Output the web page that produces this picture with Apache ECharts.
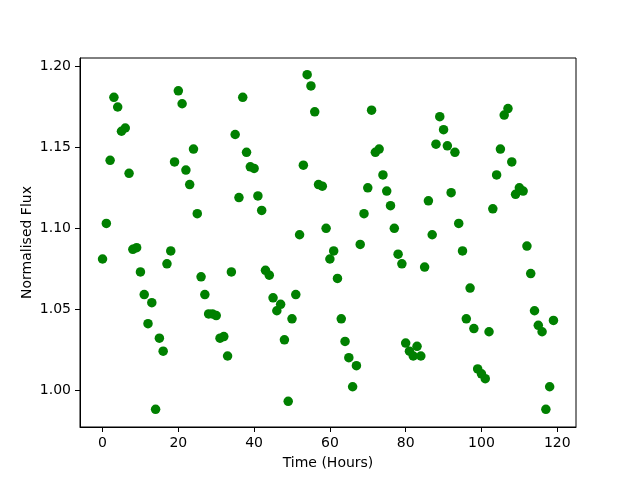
<!DOCTYPE html>
<html>
<head>
<meta charset="utf-8">
<script src="https://cdn.jsdelivr.net/npm/echarts@6/dist/echarts.min.js"></script>
<style>
  html, body { margin: 0; padding: 0; background: #fff; }
  #chart { width: 640px; height: 480px; }
</style>
</head>
<body>
<div id="chart"></div>
<script>
// hours 0..119, one reading per hour
const hours = Array.from({ length: 120 }, (_, i) => i)
const flux = [
  1.081, 1.103, 1.142, 1.181, 1.175, 1.160, 1.162, 1.134, 1.087, 1.088,
  1.073, 1.059, 1.041, 1.054, 0.988, 1.032, 1.024, 1.078, 1.086, 1.141,
  1.185, 1.177, 1.136, 1.127, 1.149, 1.109, 1.070, 1.059, 1.047, 1.047,
  1.046, 1.032, 1.033, 1.021, 1.073, 1.158, 1.119, 1.181, 1.147, 1.138,
  1.137, 1.120, 1.111, 1.074, 1.071, 1.057, 1.049, 1.053, 1.031, 0.993,
  1.044, 1.059, 1.096, 1.139, 1.195, 1.188, 1.172, 1.127, 1.126, 1.100,
  1.081, 1.086, 1.069, 1.044, 1.030, 1.020, 1.002, 1.015, 1.090, 1.109,
  1.125, 1.173, 1.147, 1.149, 1.133, 1.123, 1.114, 1.100, 1.084, 1.078,
  1.029, 1.024, 1.021, 1.027, 1.021, 1.076, 1.117, 1.096, 1.152, 1.169,
  1.161, 1.151, 1.122, 1.147, 1.103, 1.086, 1.044, 1.063, 1.038, 1.013,
  1.010, 1.007, 1.036, 1.112, 1.133, 1.149, 1.170, 1.174, 1.141, 1.121,
  1.125, 1.123, 1.089, 1.072, 1.049, 1.040, 1.036, 0.988, 1.002, 1.043
]
const xTicks = [0, 20, 40, 60, 80, 100, 120]
const yTicks = [1.00, 1.05, 1.10, 1.15, 1.20]

const chart = echarts.init(document.getElementById('chart'), null, { renderer: 'canvas' })

const font = 'DejaVu Sans'
const axisText = { color: '#000', fontFamily: font, fontSize: 14 }

chart.setOption({
  animation: false,
  backgroundColor: '#fff',
  grid: {
    left: 80,
    right: 64,
    top: 58,
    bottom: 53,
    show: true,
    borderColor: '#000',
    borderWidth: 1,
    backgroundColor: 'transparent'
  },
  xAxis: {
    type: 'value',
    min: -5.95,
    max: 124.95,
    name: 'Time (Hours)',
    nameLocation: 'middle',
    nameGap: 29,
    nameMoveOverlap: false,
    nameTextStyle: { color: '#000', fontFamily: font, fontSize: 14 },
    axisLine: { show: true, onZero: false, lineStyle: { color: '#000', width: 1 } },
    axisTick: { show: true, length: 5, lineStyle: { color: '#000' }, customValues: xTicks },
    axisLabel: Object.assign({ margin: 9, customValues: xTicks, formatter: v => String(v) }, axisText),
    splitLine: { show: false }
  },
  yAxis: {
    type: 'value',
    min: 0.9771,
    max: 1.2053,
    name: 'Normalised Flux',
    nameLocation: 'middle',
    nameGap: 46,
    nameMoveOverlap: false,
    nameTextStyle: { color: '#000', fontFamily: font, fontSize: 14 },
    axisLine: { show: true, onZero: false, lineStyle: { color: '#000', width: 1 } },
    axisTick: { show: true, length: 5, lineStyle: { color: '#000' }, customValues: yTicks },
    axisLabel: Object.assign({ margin: 9, customValues: yTicks, formatter: v => v.toFixed(2) }, axisText),
    splitLine: { show: false }
  },
  series: [{
    type: 'scatter',
    data: hours.map((h, i) => [h, flux[i]]),
    symbol: 'circle',
    symbolSize: 9.5,
    itemStyle: { color: '#008000', opacity: 1 }
  }]
})
</script>
</body>
</html>
